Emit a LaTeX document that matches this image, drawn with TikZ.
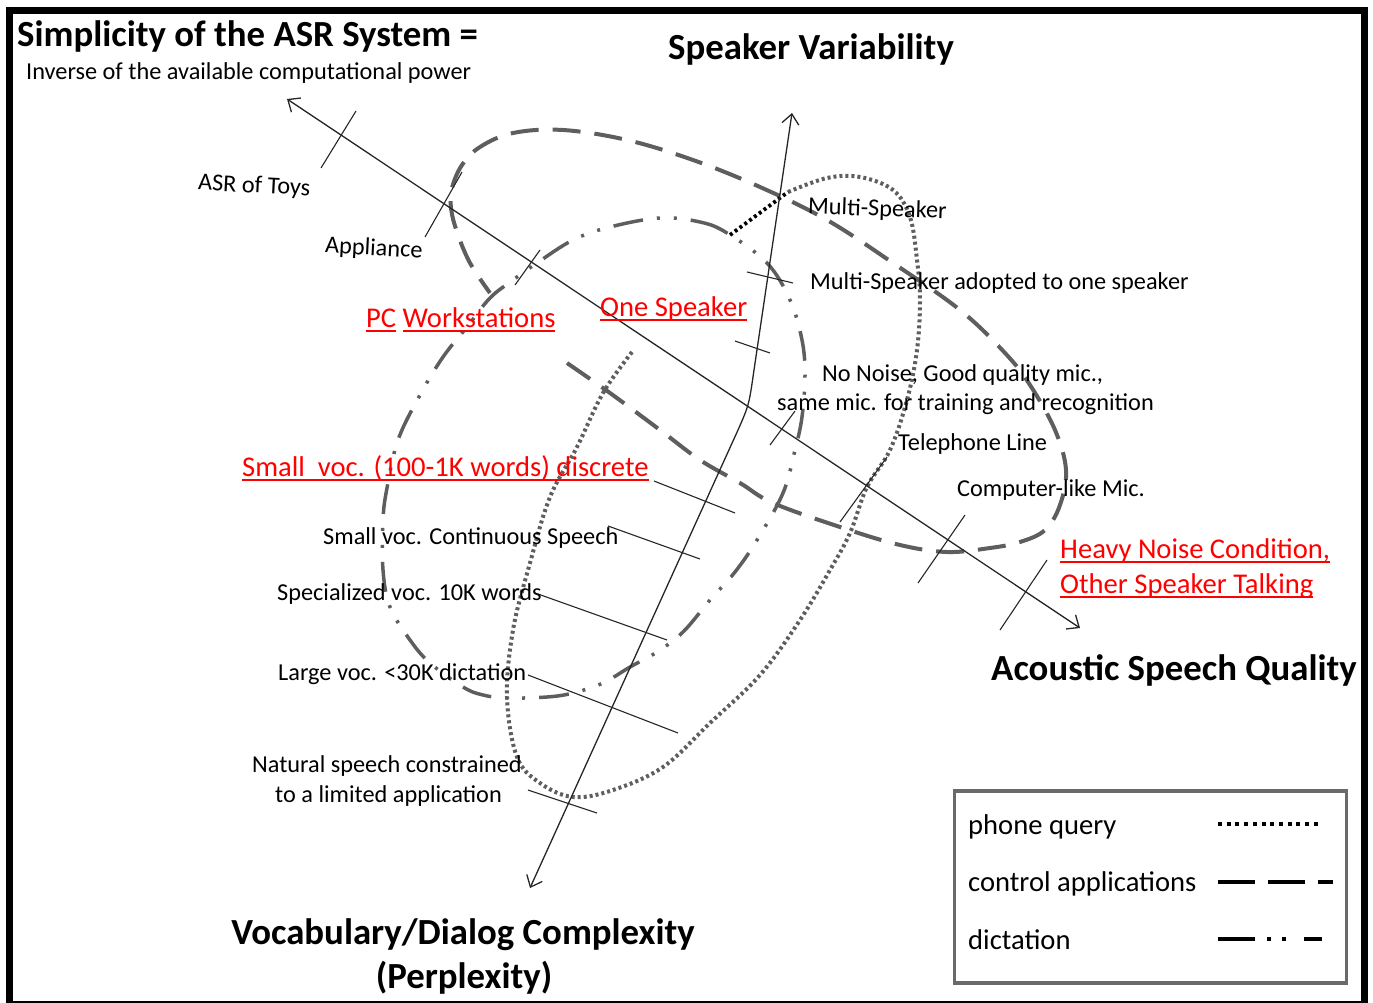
\documentclass[tikz,border=0pt]{standalone}
\usepackage{fontspec}
\setmainfont{Carlito}
\newsavebox{\ulbox}
\newcommand{\myul}[1]{\sbox{\ulbox}{#1}\rlap{\rule[-4.6pt]{\wd\ulbox}{1.8pt}}\usebox{\ulbox}}
\usetikzlibrary{arrows.meta}
\definecolor{curvegray}{HTML}{5E5E5E}
\definecolor{legframe}{HTML}{6A6A6A}
\definecolor{labred}{HTML}{FF0000}
\begin{document}
\begin{tikzpicture}[x=1pt,y=-1pt,
  lab/.style={inner sep=0pt, anchor=west, font=\fontsize{24.3}{28}\selectfont, text height=15.6pt, text depth=0pt},
  redlab/.style={lab, font=\fontsize{28.6}{32}\selectfont, text=labred, text height=18.4pt},
  ttl/.style={inner sep=0pt, anchor=west, font=\fontsize{36.8}{42}\selectfont\bfseries, text height=23.6pt, text depth=0pt},
  leglab/.style={lab, font=\fontsize{28.6}{32}\selectfont, text height=18.4pt},
  axisline/.style={line width=1.3pt, black!85},
  tickline/.style={line width=1.1pt, black!85},
  ctrl/.style={line width=4pt, curvegray, dash pattern=on 28pt off 14pt},
  dict/.style={line width=3.5pt, curvegray, dash pattern=on 30pt off 14pt on 3pt off 14pt on 3pt off 14pt},
  phone/.style={line width=4pt, curvegray, dash pattern=on 3pt off 3pt},
  >={Straight Barb[length=10pt,width=17pt,line width=1.3pt]}
]
\useasboundingbox (0,0) rectangle (1373,1003);
% frame
\draw[line width=7pt] (9.5,11) rectangle (1364,1004);

% control applications (dashed)
\draw[ctrl] plot[smooth, tension=0.6] coordinates {(567,363) (610,393) (660,430) (700,460) (740,483) (773,503) (840,527) (900,545) (947,552) (990,548) (1020,542) (1045,530) (1060,505) (1066,470) (1055,430) (1030,385) (1005,353) (960,310) (893,263) (827,220) (760,187) (693,160) (627,140) (563,130) (513,133) (480,147) (462,165) (452,188) (451,208) (457,232) (470,263) (490,293)};

% dictation (dash dot dot)
\draw[dict] plot[smooth cycle, tension=0.6] coordinates {(660,218) (700,222) (727,233) (767,263) (790,300) (802,340) (805,375) (802,417) (795,450) (783,493) (757,540) (735,572) (710,600) (683,632) (657,652) (630,667) (603,683) (573,693) (547,697) (507,698) (483,695) (463,687) (430,663) (410,640) (390,607) (383,570) (383,520) (387,488) (398,440) (420,395) (443,357) (467,327) (490,298) (513,280) (537,263) (573,240) (610,227)};

% phone query (dotted)
\draw[phone] plot[smooth, tension=0.6] coordinates {(632,352) (603,393) (577,447) (550,497) (530,563) (513,630) (507,697) (517,757) (540,783) (573,797) (613,790) (663,767) (710,723) (760,675) (800,620) (830,570) (850,533) (867,487) (890,450) (907,400) (917,350) (920,300) (917,260) (910,217) (893,190) (860,177) (827,178) (788,192)};
\draw[line width=3.8pt, black, dash pattern=on 3pt off 3pt] (730,235) -- (788,192);

% axes
\coordinate (simpA) at (287,99);
\coordinate (simpB) at (1080,628);
\coordinate (spkA) at (792,113);
\coordinate (spkM) at (754,370);
\coordinate (vocM) at (738,430);
\coordinate (vocB) at (530,888);
\draw[axisline, <->] (simpA) -- (simpB);
\draw[axisline, <->] (spkA) -- (spkM) .. controls (749,405) .. (vocM) -- (vocB);

% ticks on simplicity / acoustic axis
\draw[tickline] (356,111) -- (321,168);
\draw[tickline] (462,172) -- (425,237);
\draw[tickline] (540,250) -- (515,285);
\draw[tickline] (795,411) -- (770,445);
\draw[tickline] (887,457) -- (840,522);
\draw[tickline] (965,515) -- (918,583);
\draw[tickline] (1047,560) -- (1000,630);
% ticks on speaker axis
\draw[tickline] (747,272) -- (793,283);
\draw[tickline] (735,341) -- (770,353);
% ticks on vocabulary axis
\draw[tickline] (654,481) -- (735,513);
\draw[tickline] (608,526) -- (700,559);
\draw[tickline] (538,594) -- (667,640);
\draw[tickline] (528,675) -- (678,733);
\draw[tickline] (528,790) -- (597,813);

% titles
\node[ttl] (tSimp) at (17,35) {Simplicity of the ASR System =};
\node[lab] (tInv) at (26,72) {Inverse of the available computational power};
\node[ttl] (tSpk) at (668,48) {Speaker Variability};
\node[ttl] (tAco) at (991,669) {Acoustic Speech Quality};
\node[ttl, anchor=center] (tVoc) at (463,933) {Vocabulary/Dialog Complexity};
\node[ttl, anchor=center] (tPer) at (464,977) {(Perplexity)};

% labels
\node[lab, rotate=-3] (lToys) at (198,182) {ASR of Toys};
\node[lab, rotate=-3] (lApp) at (325,245) {Appliance};
\node[redlab] (lPC) at (366,318) {\myul{PC}\ \myul{Workstations}};
\node[redlab] (lOne) at (600,307) {\myul{One Speaker}};
\node[lab, rotate=-2] (lMulti) at (808,206) {Multi-Speaker};
\node[lab] (lMultiA) at (810,282) {Multi-Speaker adopted to one speaker};
\node[lab] (lNoN) at (822,374) {No Noise, Good quality mic.,};
\node[lab] (lSame) at (777,403) {same mic. for training and recognition};
\node[lab] (lTel) at (898,443) {Telephone Line};
\node[lab] (lComp) at (957,489) {Computer-like Mic.};
\node[redlab] (lHeavy) at (1060,549) {\myul{Heavy Noise Condition,}};
\node[redlab] (lOther) at (1060,584) {\myul{Other Speaker Talking}};
\node[redlab] (lSmall) at (242,467) {\myul{Small\ \ voc. (100-1K words) discrete}};
\node[lab] (lCont) at (323,537) {Small voc. Continuous Speech};
\node[lab] (lSpec) at (277,593) {Specialized voc. 10K words};
\node[lab] (lLarge) at (278,673) {Large voc. <30K dictation};
\node[lab] (lNat1) at (252,765) {Natural speech constrained};
\node[lab] (lNat2) at (275,795) {to a limited application};

% legend
\node[draw=legframe, line width=3.5pt, minimum width=392pt, minimum height=192pt, inner sep=0pt] (leg) at (1150.5,887) {};
\node[leglab] (gPhone) at (968,825) {phone query};
\node[leglab] (gCtrl) at (968,882) {control applications};
\node[leglab] (gDict) at (968,940) {dictation};
\coordinate (sPa) at (1218,824); \coordinate (sPb) at (1322,824);
\coordinate (sCa) at (1218,882); \coordinate (sCb) at (1333,882);
\coordinate (sDa) at (1218,939); \coordinate (sDb) at (1322,939);
\draw[line width=4pt, black, dash pattern=on 4pt off 4.7pt] (sPa) -- (sPb);
\draw[line width=4.5pt, black, dash pattern=on 37pt off 13pt] (sCa) -- (sCb);
\draw[line width=4.5pt, black, dash pattern=on 37pt off 12pt on 4pt off 11pt on 4pt off 18pt] (sDa) -- (sDb);
\end{tikzpicture}
\end{document}
